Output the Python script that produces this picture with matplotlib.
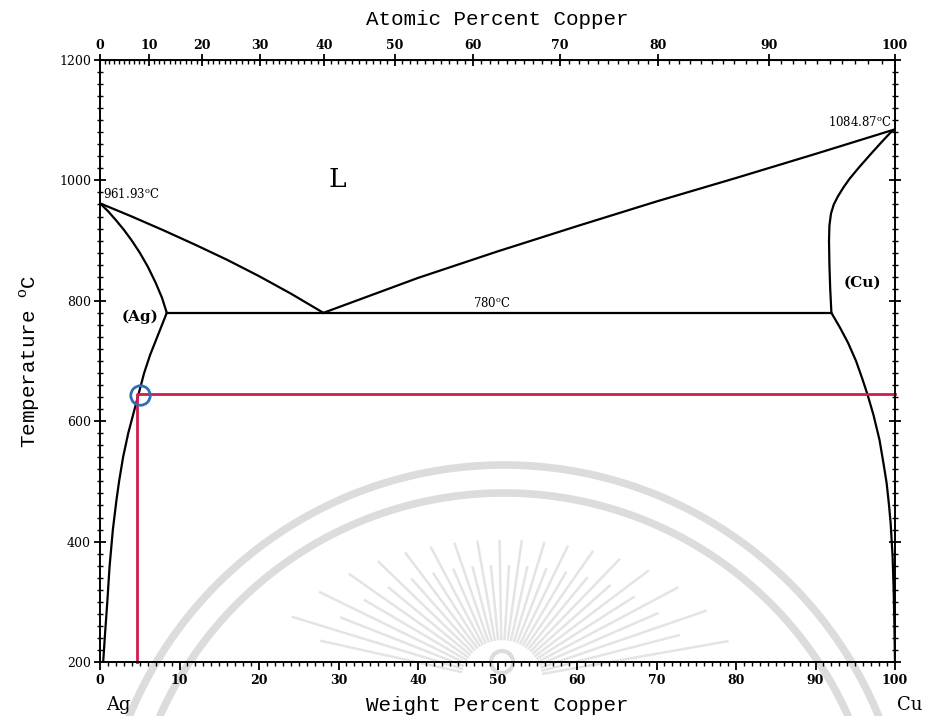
import numpy as np
import matplotlib
matplotlib.use('Agg')
import matplotlib.pyplot as plt
from matplotlib.ticker import MultipleLocator

plt.rcParams['mathtext.fontset'] = 'custom'
plt.rcParams['mathtext.rm'] = 'DejaVu Serif'

# Ag-Cu phase diagram, compositions in weight percent Cu, temperatures in C
liq_ag_wt = [0, 4, 8, 12, 16, 20, 24, 28.1]
liq_ag_T = [961.93, 940, 917, 893, 868, 841, 812, 780]

sol_ag_wt = [0, 1, 2, 3, 4, 5, 6, 7, 7.8, 8.4]
sol_ag_T = [961.93, 949, 934, 918, 900, 880, 857, 830, 805, 780]

solv_ag_wt = [8.4, 7.5, 6.3, 5.55, 4.85, 4.15, 3.55, 2.9, 2.4, 2.07, 1.62,
              1.2, 0.92, 0.64, 0.4]
solv_ag_T = [780, 750, 710, 680, 645, 610, 580, 540, 500, 469, 420,
             358, 300, 248, 200]

eut_wt = [8.4, 92.0]
eut_T = [780, 780]

liq_cu_wt = [28.1, 40, 50, 60, 70, 80, 90, 100]
liq_cu_T = [780, 838, 882, 924, 965, 1004, 1044, 1084.87]

sol_cu_wt = [92.0, 91.85, 91.75, 91.7, 91.75, 91.95, 92.3, 92.8, 93.5, 94.3,
             95.5, 96.9, 98.2, 99.4, 100]
sol_cu_T = [780, 820, 860, 900, 925, 945, 960, 973, 988, 1003,
            1022, 1043, 1062, 1079, 1084.87]

solv_cu_wt = [92.0, 93.1, 94.1, 95.1, 95.9, 96.55, 97.3, 98.05, 98.55, 98.95,
              99.25, 99.45, 99.7, 99.83, 99.92, 100]
solv_cu_T = [780, 755, 730, 700, 670, 644, 610, 569, 530, 497,
             460, 431, 375, 320, 265, 200]

# red construction line and the circled point
red_wt = [4.6, 4.6, 100]
red_T = [200, 645, 645]
circ_wt = [5.0]
circ_T = [643]

M_AG = 107.87
M_CU = 63.55


def wt2at(w):
    w = np.asarray(w, float)
    return (w / M_CU) / (w / M_CU + (100 - w) / M_AG) * 100


def at2wt(a):
    a = np.asarray(a, float)
    return a * M_CU / (a * M_CU + (100 - a) * M_AG) * 100


W, H = 925, 716
fig = plt.figure(figsize=(W / 100, H / 100), dpi=100)

# faint watermark seal in the background
bg = fig.add_axes([0, 0, 1, 1], zorder=0)
bg.set_xlim(0, W)
bg.set_ylim(H, 0)
bg.axis('off')
gray = '#dcdcdc'
t = np.linspace(0, np.pi, 300)
for r in (405, 377):
    bg.plot(504 + r * np.cos(t), 870 - r * np.sin(t), color=gray, lw=5.5,
            solid_capstyle='butt')
for i, th in enumerate(np.radians(np.arange(10, 171, 4.5))):
    a, b = 235, 140
    ro = a * b / np.sqrt((b * np.cos(th)) ** 2 + (a * np.sin(th)) ** 2)
    if i % 2:
        ro *= 0.82
    ri = 42
    bg.plot([502 + ri * np.cos(th), 502 + ro * np.cos(th)],
            [681 - ri * np.sin(th), 681 - ro * np.sin(th)],
            color='#e4e4e4', lw=1.8)
bg.add_patch(plt.Circle((502, 662), 11, fill=False, ec=gray, lw=3))

ax = fig.add_axes([100 / W, 1 - 662 / H, 795 / W, 602 / H], zorder=1)
ax.set_facecolor('none')

lw = 1.6
for xs, ys in [(liq_ag_wt, liq_ag_T), (sol_ag_wt, sol_ag_T),
               (solv_ag_wt, solv_ag_T), (eut_wt, eut_T),
               (liq_cu_wt, liq_cu_T), (sol_cu_wt, sol_cu_T),
               (solv_cu_wt, solv_cu_T)]:
    ax.plot(xs, ys, color='black', lw=lw, solid_joinstyle='round')

ax.plot(red_wt, red_T, color='#d01c4b', lw=2.0, clip_on=False)
ax.plot(circ_wt, circ_T, 'o', ms=14, mfc='none', mec='#2f6db5', mew=2.0)

ax.set_xlim(0, 100)
ax.set_ylim(200, 1200)

serif = 'DejaVu Serif'
mono = 'Liberation Mono'

ax.text(0.4, 977, '961.93$^{\\rm o}$C', fontsize=8.5, family=serif,
        ha='left', va='center')
ax.text(99.6, 1097, '1084.87$^{\\rm o}$C', fontsize=8.5, family=serif,
        ha='right', va='center')
ax.text(49.3, 797, '780$^{\\rm o}$C', fontsize=8.5, family=serif,
        ha='center', va='center')
ax.text(5.0, 773, '(Ag)', fontsize=11, family=serif, weight='bold',
        ha='center', va='center')
ax.text(95.9, 830, '(Cu)', fontsize=11, family=serif, weight='bold',
        ha='center', va='center')
ax.text(29.8, 1001, 'L', fontsize=19, family=serif, ha='center', va='center')
ax.text(2.3, 128, 'Ag', fontsize=13, family=serif, ha='center', va='center',
        clip_on=False)
ax.text(101.9, 128, 'Cu', fontsize=13, family=serif, ha='center',
        va='center', clip_on=False)

# axes and ticks
for s in ax.spines.values():
    s.set_linewidth(1.4)
ax.xaxis.set_major_locator(MultipleLocator(10))
ax.xaxis.set_minor_locator(MultipleLocator(1))
ax.yaxis.set_major_locator(MultipleLocator(200))
ax.yaxis.set_minor_locator(MultipleLocator(20))
ax.tick_params(axis='x', which='major', direction='out', length=6, width=1.3,
               pad=3, labelsize=9)
ax.tick_params(axis='x', which='minor', direction='out', length=3, width=1)
ax.tick_params(axis='y', which='major', direction='inout', length=9,
               width=1.3, right=True, labelsize=9, pad=2)
ax.tick_params(axis='y', which='minor', direction='inout', length=5,
               width=1, right=True)
for lab in ax.get_xticklabels():
    lab.set_family(serif)
    lab.set_weight('bold')
for lab in ax.get_yticklabels():
    lab.set_family(serif)

ax.set_xlabel('Weight Percent Copper', family=mono, fontsize=15,
              labelpad=6)
ax.set_ylabel('Temperature $^{\\rm o}$C', family=mono, fontsize=15,
              labelpad=12)

top = ax.secondary_xaxis('top', functions=(wt2at, at2wt))
top.set_xticks(np.arange(0, 101, 10))
top.xaxis.set_minor_locator(MultipleLocator(1))
top.tick_params(which='major', direction='inout', length=8, width=1.3,
                labelsize=9, pad=2)
top.tick_params(which='minor', direction='in', length=3, width=1)
for lab in top.get_xticklabels():
    lab.set_family(serif)
    lab.set_weight('bold')
top.set_xlabel('Atomic Percent Copper', family=mono, fontsize=15,
               labelpad=10)

fig.savefig('out.png', dpi=100)
